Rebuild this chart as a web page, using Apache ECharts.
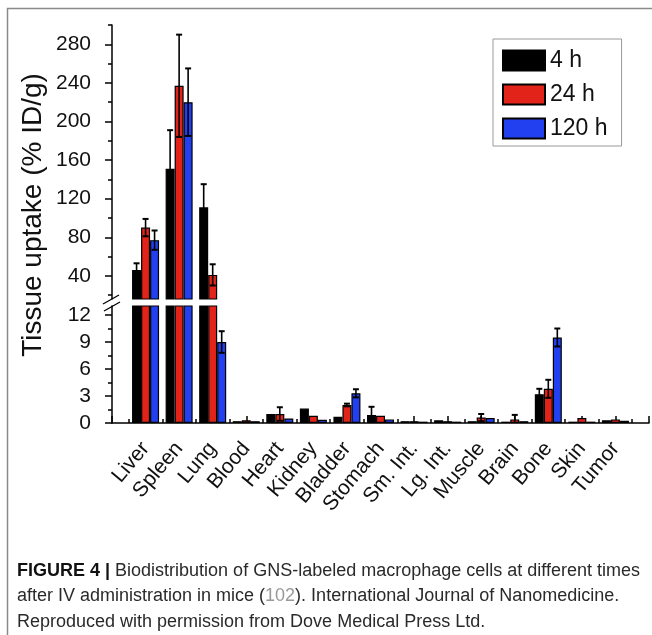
<!DOCTYPE html>
<html><head><meta charset="utf-8">
<script src="https://cdn.jsdelivr.net/npm/echarts@6/dist/echarts.min.js"></script>
<style>html,body{margin:0;padding:0;background:#fff}#c{width:652px;height:635px}</style>
</head><body><div id="c"></div>
<script>
const categories = ['Liver','Spleen','Lung','Blood','Heart','Kidney','Bladder','Stomach','Sm. Int.','Lg. Int.','Muscle','Brain','Bone','Skin','Tumor'];
const seriesNames = ['4 h','24 h','120 h'];
const values4h   = [46, 151, 111, 0.2, 1.0, 1.6, 0.7, 0.9, 0.2, 0.3, 0.2, 0.15, 3.2, 0.15, 0.3];
const err4h      = [7, 40, 24, 0, 0, 0, 0, 0.9, 0, 0, 0, 0, 0.6, 0, 0];
const values24h  = [90, 237, 41, 0.3, 1.0, 0.8, 2.0, 0.8, 0.2, 0.2, 0.6, 0.4, 3.8, 0.55, 0.4];
const err24h     = [9, 53, 11, 0, 0.75, 0, 0.15, 0, 0, 0, 0.4, 0.5, 1.0, 0, 0];
const values120h = [77, 220, 9, 0.2, 0.5, 0.35, 3.3, 0.4, 0.15, 0.15, 0.55, 0.2, 9.5, 0.15, 0.25];
const err120h    = [10, 35, 1.2, 0, 0, 0, 0.45, 0, 0, 0, 0, 0, 1.0, 0, 0];
const upperMajorTicks = [40, 80, 120, 160, 200, 240, 280];
const upperMinorTicks = [20, 60, 100, 140, 180, 220, 260, 300];
const lowerMajorTicks = [0, 3, 6, 9, 12];
const lowerMinorTicks = [1.5, 4.5, 7.5, 10.5];
const yTitle = 'Tissue uptake (% ID/g)';
const captionBold = 'FIGURE 4 |';
const captionLines = [
  ' Biodistribution of GNS-labeled macrophage cells at different times',
  'after IV administration in mice (', '102', '). International Journal of Nanomedicine.',
  'Reproduced with permission from Dove Medical Press Ltd.'
];

const colors = ['#000000', '#e2231a', '#2340f0'];
const BAR_W = 9;
const FONT = 'Liberation Sans, Arial, sans-serif';
const allValues = [values4h, values24h, values120h];
const allErrs = [err4h, err24h, err120h];
const cats = [''].concat(categories).concat(['']);

const chart = echarts.init(document.getElementById('c'));

function barSeries(s, xi, yi) {
  return {
    type: 'bar', name: seriesNames[s], xAxisIndex: xi, yAxisIndex: yi,
    data: allValues[s].map((v, i) => [i + 1, v]),
    barWidth: BAR_W, barGap: '0%',
    itemStyle: { color: colors[s], borderColor: '#000', borderWidth: 1.2 },
    emphasis: { disabled: true }, animation: false
  };
}
const errData = [];
allValues.forEach((vals, s) => vals.forEach((v, i) => errData.push([i + 1, v, allErrs[s][i], s])));
function renderErr(params, api) {
  const ci = api.value(0), m = api.value(1), e = api.value(2), s = api.value(3);
  if (!(e > 0)) return null;
  const pt = api.coord([ci, m + e]);
  const pb = api.coord([ci, m - e]);
  const x = pt[0] + (s - 1) * BAR_W;
  const c = 3;
  const st = { stroke: '#000', lineWidth: 1.6 };
  return { type: 'group', children: [
    { type: 'line', shape: { x1: x, y1: pt[1], x2: x, y2: pb[1] }, style: st },
    { type: 'line', shape: { x1: x - c, y1: pt[1], x2: x + c, y2: pt[1] }, style: { stroke: '#000', lineWidth: 2 } },
    { type: 'line', shape: { x1: x - c, y1: pb[1], x2: x + c, y2: pb[1] }, style: { stroke: '#000', lineWidth: 2 } }
  ]};
}
function errSeries(xi, yi) {
  return { type: 'custom', name: 'err', xAxisIndex: xi, yAxisIndex: yi, data: errData,
    encode: { x: 0, y: 1 }, renderItem: renderErr, clip: true, z: 5, silent: true, animation: false };
}
function yAxisMain(grid, min, max, ticks) {
  return { type: 'value', gridIndex: grid, min: min, max: max, position: 'left',
    axisLine: { show: true, lineStyle: { color: '#000', width: 1.5 } },
    axisTick: { show: true, customValues: ticks, length: 7, lineStyle: { color: '#000', width: 1.5 } },
    axisLabel: { customValues: ticks, fontSize: 21, color: '#111', margin: 21, fontFamily: FONT },
    splitLine: { show: false } };
}
function yAxisMinor(grid, min, max, ticks) {
  return { type: 'value', gridIndex: grid, min: min, max: max, position: 'left', offset: 0,
    axisLine: { show: false },
    axisTick: { show: true, customValues: ticks, length: 4, lineStyle: { color: '#000', width: 1.5 } },
    axisLabel: { show: false }, splitLine: { show: false } };
}

const option = {
  backgroundColor: '#fff',
  animation: false,
  grid: [
    { left: 112, top: 25, width: 537, height: 274 },
    { left: 112, top: 306, width: 537, height: 117 }
  ],
  xAxis: [
    { type: 'category', gridIndex: 0, data: cats, boundaryGap: false, show: false },
    { type: 'category', gridIndex: 1, data: cats, boundaryGap: false,
      axisLine: { show: false }, axisTick: { show: false },
      axisLabel: { interval: 0, rotate: 50, fontSize: 21, color: '#111', margin: 22, fontFamily: FONT } },
    { type: 'value', gridIndex: 1, min: 0, max: 16, interval: 1,
      axisLine: { show: true, lineStyle: { color: '#000', width: 1.5 } },
      axisTick: { show: true, length: 7, lineStyle: { color: '#000', width: 1.5 } },
      minorTick: { show: true, splitNumber: 2, length: 4, lineStyle: { color: '#000', width: 1.5 } },
      axisLabel: { show: false }, splitLine: { show: false } }
  ],
  yAxis: [
    yAxisMain(0, 16, 300, upperMajorTicks),
    yAxisMinor(0, 16, 300, upperMinorTicks),
    yAxisMain(1, 0, 13, lowerMajorTicks),
    yAxisMinor(1, 0, 13, lowerMinorTicks)
  ],
  legend: {
    data: seriesNames, orient: 'vertical', left: 493, top: 39,
    itemWidth: 42, itemHeight: 20, itemGap: 11, icon: 'rect',
    padding: [10, 14, 6, 9], borderColor: '#999', borderWidth: 1,
    textStyle: { fontSize: 23, color: '#111', fontFamily: FONT }, selectedMode: false
  },
  series: [
    barSeries(0, 0, 0), barSeries(1, 0, 0), barSeries(2, 0, 0),
    barSeries(0, 1, 2), barSeries(1, 1, 2), barSeries(2, 1, 2),
    errSeries(0, 0), errSeries(1, 2)
  ],
  graphic: [
    { type: 'polyline', shape: { points: [[7.5, 635], [7.5, 8.5], [652, 8.5]] },
      style: { stroke: '#8a8a8a', lineWidth: 1.5, fill: null }, silent: true },
    { type: 'text', x: 33, y: 215, rotation: Math.PI / 2,
      style: { text: yTitle, fontSize: 28, fill: '#111', fontFamily: FONT, align: 'center', verticalAlign: 'middle' } },
    { type: 'line', shape: { x1: 103, y1: 304, x2: 119, y2: 295 }, style: { stroke: '#000', lineWidth: 1.3 } },
    { type: 'line', shape: { x1: 104, y1: 311, x2: 120, y2: 302 }, style: { stroke: '#000', lineWidth: 1.3 } },
    { type: 'text', x: 17, y: 558,
      style: {
        text: '{b|' + captionBold + '}' + captionLines[0] + '\n' + captionLines[1] + '{g|' + captionLines[2] + '}' + captionLines[3] + '\n' + captionLines[4],
        fontSize: 18, lineHeight: 25.5, fill: '#2a2a2a', fontFamily: FONT,
        rich: { b: { fontWeight: 'bold', fill: '#111', fontSize: 18, fontFamily: FONT }, g: { fill: '#999', fontSize: 18, fontFamily: FONT } }
      } }
  ]
};
chart.setOption(option);
</script></body></html>
